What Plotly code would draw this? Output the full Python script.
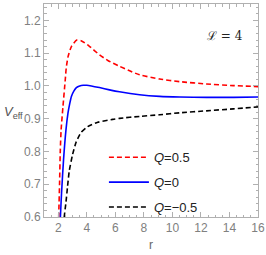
import plotly.graph_objects as go

# Q = 0.5 (red dashed)
r_q05 = [2.0, 2.03, 2.09, 2.14, 2.2, 2.33, 2.49, 2.56, 2.69, 2.93, 3.3, 3.6, 4.18, 4.885, 5.5, 6.29, 7.0, 7.7, 9.11, 10.52, 12.39, 14.27, 16.0]
v_q05 = [0.55, 0.60, 0.70, 0.80, 0.866, 0.937, 1.019, 1.055, 1.09, 1.121, 1.14, 1.138, 1.121, 1.095, 1.077, 1.06, 1.046, 1.034, 1.021, 1.013, 1.006, 1.001, 0.998]

# Q = 0 (blue solid)
r_q0 = [2.12, 2.15, 2.23, 2.37, 2.54, 2.68, 2.8, 2.92, 3.1, 3.27, 3.5, 3.75, 4.0, 4.32, 4.885, 5.59, 6.29, 7.7, 9.11, 10.52, 12.4, 14.3, 16.0]
v_q0 = [0.55, 0.60, 0.673, 0.775, 0.866, 0.917, 0.945, 0.968, 0.985, 0.995, 1.0, 1.002, 1.002, 1.0, 0.995, 0.988, 0.982, 0.973, 0.968, 0.966, 0.965, 0.965, 0.966]

# Q = -0.5 (black dashed)
r_qm05 = [2.40, 2.42, 2.54, 2.65, 2.77, 3.0, 3.25, 3.6, 4.06, 4.77, 5.82, 6.29, 7.7, 9.11, 10.52, 12.39, 14.27, 16.0]
v_qm05 = [0.55, 0.60, 0.645, 0.693, 0.74, 0.79, 0.828, 0.858, 0.876, 0.889, 0.898, 0.901, 0.907, 0.912, 0.918, 0.924, 0.930, 0.936]

labels = ["<i>Q</i>=0.5", "<i>Q</i>=0", "<i>Q</i>=\u22120.5"]
colors = ["#ff0000", "#0000ff", "#000000"]
dashes = ["5px,3px", "solid", "5px,3px"]

x_ticks = [2, 4, 6, 8, 10, 12, 14, 16]
y_ticks = [0.6, 0.7, 0.8, 0.9, 1.0, 1.1, 1.2]
y_ticklabels = ["0.6", "0.7", "0.8", "0.9", "1.0", "1.1", "1.2"]

fig = go.Figure()
for i, (xs, ys) in enumerate([(r_q05, v_q05), (r_q0, v_q0), (r_qm05, v_qm05)]):
    fig.add_trace(go.Scatter(
        x=xs, y=ys, mode="lines", name=labels[i], legendgroup=str(i),
        line=dict(color=colors[i], width=1.6, dash=dashes[i], shape="spline", smoothing=0.6),
    ))

axis_common = dict(
    showgrid=False, zeroline=False, showline=True, linecolor="#b0b0b0", linewidth=1,
    mirror="allticks", ticks="inside", ticklen=5, tickcolor="#b0b0b0", tickwidth=1,
    automargin=False,
    tickfont=dict(family="Liberation Sans, Arial, sans-serif", size=12, color="#808080"),
)

fig.update_xaxes(range=[1, 16], tickvals=x_ticks, **axis_common,
                 minor=dict(ticks="inside", ticklen=2.5, dtick=0.5, tickcolor="#b0b0b0"))
fig.update_yaxes(range=[0.6, 1.25], tickvals=y_ticks, ticktext=y_ticklabels, **axis_common,
                 minor=dict(ticks="inside", ticklen=2.5, dtick=0.02, tickcolor="#b0b0b0"))

fig.add_annotation(text="<i>V</i><sub>eff</sub>", xref="paper", yref="paper", x=-0.197, y=0.49,
                   xanchor="left", yanchor="middle", showarrow=False,
                   font=dict(family="Liberation Sans, Arial, sans-serif", size=13, color="#555555"))
fig.add_annotation(text="r", xref="paper", yref="paper", x=0.5, y=-0.13,
                   xanchor="center", yanchor="middle", showarrow=False,
                   font=dict(family="Liberation Sans, Arial, sans-serif", size=12, color="#666666"))
fig.add_annotation(text="\u2112 = 4", xref="paper", yref="paper", x=0.846, y=0.85,
                   xanchor="center", yanchor="middle", showarrow=False,
                   font=dict(family="DejaVu Serif, serif", size=12, color="#222222"))

fig.update_layout(
    width=266, height=255,
    margin=dict(l=44, r=8, t=4, b=38),
    paper_bgcolor="white", plot_bgcolor="white",
    showlegend=True,
    legend=dict(x=0.28, y=0.351, xanchor="left", yanchor="top", bgcolor="rgba(0,0,0,0)",
                itemwidth=40, tracegroupgap=5,
                font=dict(family="Liberation Sans, Arial, sans-serif", size=13, color="#222222")),
)

fig.write_html("out.html", config={"displayModeBar": False},
               post_script="document.body.style.margin='0';")
